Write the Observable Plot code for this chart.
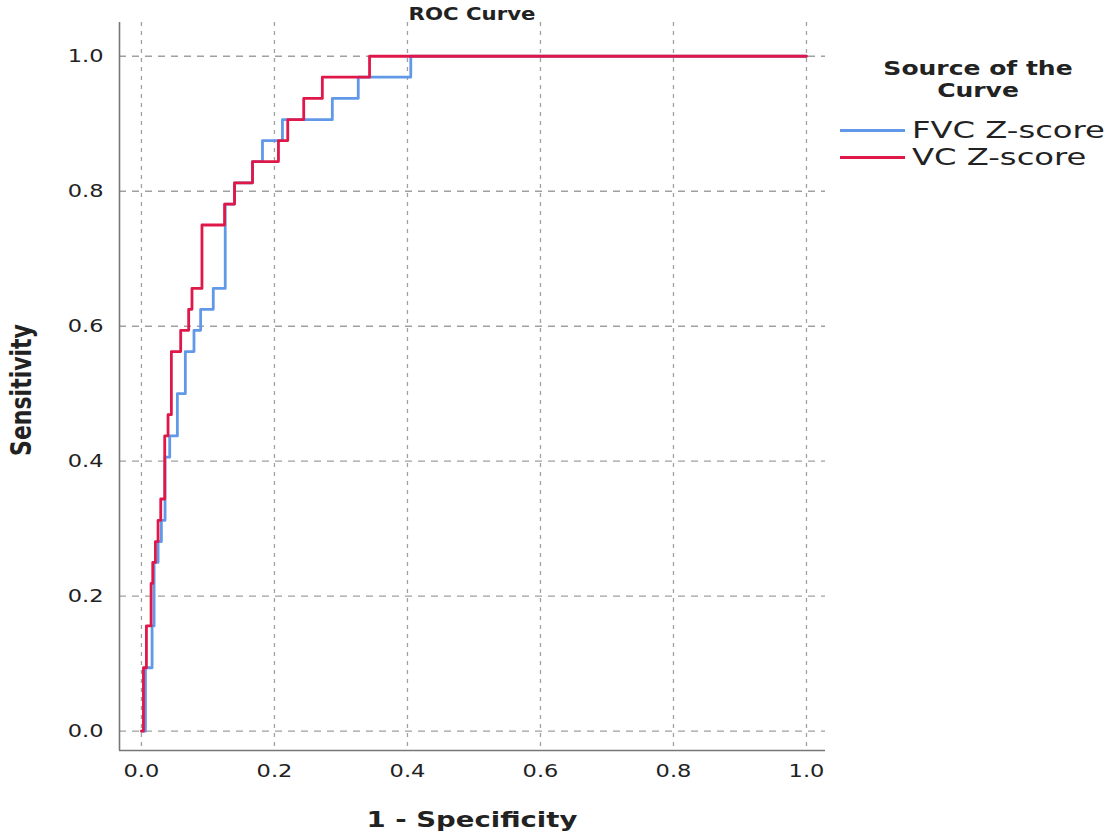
<!DOCTYPE html>
<html><head><meta charset="utf-8">
<script src="https://cdn.jsdelivr.net/npm/d3@7"></script>
<script src="https://cdn.jsdelivr.net/npm/@observablehq/plot@0.6"></script>
<style>
body{margin:0;background:#fff;}
#wrap{position:relative;width:1115px;height:837px;overflow:hidden;font-family:"DejaVu Sans",sans-serif;color:#222;}
#wrap svg{position:absolute;left:0;top:0;}
.t{position:absolute;white-space:nowrap;line-height:1;}
</style></head><body><div id="wrap"></div>
<script>
// ROC points (1 - Specificity, Sensitivity)
const fvcFpr = [0, 0.006, 0.016, 0.019, 0.025, 0.030, 0.0355, 0.0425, 0.054, 0.066, 0.079, 0.089, 0.108, 0.126, 0.140, 0.167, 0.182, 0.212, 0.287, 0.326, 0.405, 1];
const fvcTpr = [0, 0.094, 0.156, 0.25, 0.281, 0.3125, 0.406, 0.4375, 0.5, 0.5625, 0.594, 0.625, 0.656, 0.781, 0.8125, 0.844, 0.875, 0.906, 0.9375, 0.969, 1, 1];
const vcFpr = [0, 0.003, 0.0075, 0.0145, 0.017, 0.021, 0.025, 0.029, 0.035, 0.040, 0.045, 0.059, 0.071, 0.076, 0.091, 0.125, 0.140, 0.167, 0.206, 0.220, 0.244, 0.272, 0.343, 1];
const vcTpr = [0, 0.094, 0.156, 0.219, 0.25, 0.281, 0.3125, 0.344, 0.4375, 0.469, 0.5625, 0.594, 0.625, 0.656, 0.75, 0.781, 0.8125, 0.844, 0.875, 0.906, 0.9375, 0.969, 1, 1];
const seriesNames = ["FVC Z-score", "VC Z-score"];
const seriesColors = ["#6199e8", "#e0184a"];
const ticks = [0, 0.2, 0.4, 0.6, 0.8, 1.0];

const rows = [];
fvcFpr.forEach((x, i) => rows.push({series: seriesNames[0], x, y: fvcTpr[i]}));
vcFpr.forEach((x, i) => rows.push({series: seriesNames[1], x, y: vcTpr[i]}));

const xmin = -0.033, xmax = 1.0286, ymin = -0.0286, ymax = 1.05;
const fmt = d3.format(".1f");

const chart = Plot.plot({
  width: 1115, height: 837,
  marginLeft: 119, marginRight: 290, marginTop: 22, marginBottom: 87,
  style: {fontFamily: "DejaVu Sans", fontSize: "18px", color: "#222", background: "transparent", overflow: "visible"},
  x: {domain: [xmin, xmax]},
  y: {domain: [ymin, ymax]},
  marks: [
    Plot.gridX(ticks, {stroke: "#a0a0a0", strokeOpacity: 1, strokeDasharray: "4,5", strokeWidth: 1.3}),
    Plot.gridY(ticks, {stroke: "#a0a0a0", strokeOpacity: 1, strokeDasharray: "7,6", strokeWidth: 1.3}),
    Plot.axisX(ticks, {tickSize: 0, tickPadding: 14, tickFormat: fmt, label: null, fill: "#222"}),
    Plot.axisY(ticks, {tickSize: 0, tickPadding: 16, tickFormat: fmt, label: null, fill: "#222"}),
    Plot.ruleX([xmin], {stroke: "#777", strokeWidth: 1.6}),
    Plot.ruleY([ymin], {stroke: "#777", strokeWidth: 1.6}),
    Plot.line(rows.filter(d => d.series === seriesNames[0]), {x: "x", y: "y", stroke: seriesColors[0], strokeWidth: 2.8, curve: "step-after"}),
    Plot.line(rows.filter(d => d.series === seriesNames[1]), {x: "x", y: "y", stroke: seriesColors[1], strokeWidth: 2.8, curve: "step-after"})
  ]
});
const wrap = document.getElementById("wrap");
wrap.appendChild(chart);
d3.select(chart).selectAll('g[aria-label$="tick label"] text').attr("transform", function() {
  return (this.getAttribute("transform") || "") + " scale(1.25,1)";
});

function addText(txt, css) {
  const d = document.createElement("div");
  d.className = "t";
  d.textContent = txt;
  Object.assign(d.style, css);
  wrap.appendChild(d);
  return d;
}
addText("ROC Curve", {left: "472px", top: "14px", fontWeight: "bold", fontSize: "17px", transform: "translate(-50%,-50%) scaleX(1.25)"});
addText("1 - Specificity", {left: "472px", top: "820px", fontWeight: "bold", fontSize: "22px", transform: "translate(-50%,-50%) scaleX(1.25)"});
addText("Sensitivity", {left: "22px", top: "390px", fontWeight: "bold", fontSize: "22px", transform: "translate(-50%,-50%) scaleX(1.25) rotate(-90deg)"});
addText("Source of the", {left: "978px", top: "68px", fontWeight: "bold", fontSize: "20px", transform: "translate(-50%,-50%) scaleX(1.25)"});
addText("Curve", {left: "978px", top: "90px", fontWeight: "bold", fontSize: "20px", transform: "translate(-50%,-50%) scaleX(1.25)"});
seriesNames.forEach((name, i) => {
  const y = 130 + i * 27;
  const ln = document.createElement("div");
  Object.assign(ln.style, {position: "absolute", left: "840px", top: (y - 1.5) + "px", width: "65px", height: "3px", background: seriesColors[i]});
  wrap.appendChild(ln);
  addText(name, {left: "912px", top: y + "px", fontSize: "23px", transformOrigin: "0 50%", transform: "translateY(-50%) scaleX(1.4)"});
});
</script>
</body></html>
